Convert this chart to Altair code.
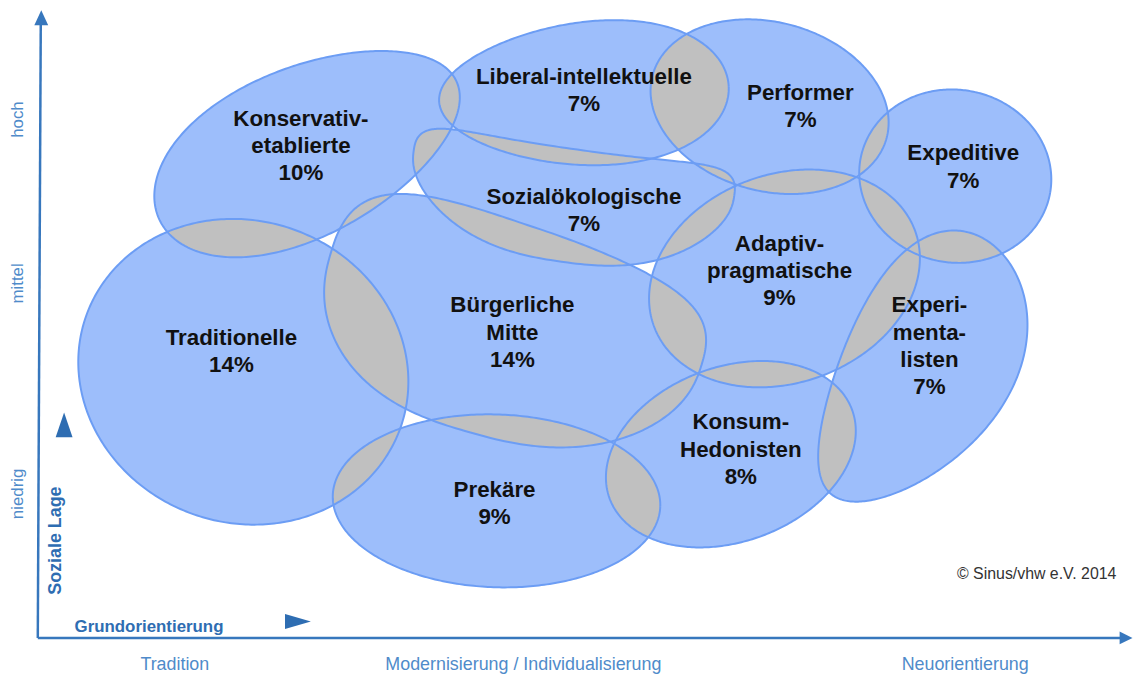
import numpy as np
import pandas as pd
import altair as alt

# ---------------- data ----------------
milieu = ["Konservativ-etablierte", "Liberal-intellektuelle", "Performer", "Expeditive",
          "Sozialökologische", "Adaptiv-pragmatische", "Traditionelle", "Bürgerliche Mitte",
          "Experimentalisten", "Konsum-Hedonisten", "Prekäre"]
label_text = ["Konservativ-\netablierte", "Liberal-intellektuelle", "Performer", "Expeditive",
              "Sozialökologische", "Adaptiv-\npragmatische", "Traditionelle", "Bürgerliche\nMitte",
              "Experi-\nmenta-\nlisten", "Konsum-\nHedonisten", "Prekäre"]
share = [10, 7, 7, 7, 7, 9, 14, 14, 7, 8, 9]

# milieu extent on the map (map units, y grows downward = lower social status)
center_x = [310, 588, 775, 962, 578, 790, 245, 520, 916, 736, 500]
center_y = [149, 92, 105, 175, 172, 278, 372, 308, 368, 455, 502]
half_len = [165, 146, 122, 97, 163, 140, 168, 195, 150, 130, 165]
half_wid = [85, 72, 85, 87, 57, 105, 152, 108, 84, 88, 87]
tilt = [25, 3, -15, -10, -8, 20, -20, -17, 60, 20, -2]
taper = [0.1, -0.15, 0, 0, 0, 0, 0, 0.1, -0.2, 0, 0]
bend = [0, 0, 0, 0, 33, 0, 0, 25, 15, 0, 0]
squareness = [2, 2, 2, 2, 2.5, 2, 2, 2.5, 2, 2, 2]
label_x = [303, 588, 806, 970, 588, 785, 233, 516, 936, 746, 498]
label_y = [117, 75, 91, 152, 196, 243, 338, 305, 305, 423, 491]

y_levels = ["hoch", "mittel", "niedrig"]
y_level_pos = [118, 283, 495]
x_levels = ["Tradition", "Modernisierung / Individualisierung", "Neuorientierung"]
x_level_pos = [176, 527, 972]

# ---------------- geometry ----------------
N = 360


def blob(cx, cy, a, b, ang, k, m, n):
    t = np.linspace(0, 2 * np.pi, N, endpoint=False)
    c, s = np.cos(t), np.sin(t)
    u = a * np.sign(c) * np.abs(c) ** (2 / n)
    v = b * np.sign(s) * np.abs(s) ** (2 / n) * (1 - k * c) + m * s ** 2
    th = np.deg2rad(ang)
    x = cx + u * np.cos(th) + v * np.sin(th)
    y = cy - u * np.sin(th) + v * np.cos(th)
    return np.column_stack([x, y])


def pip(poly, pts):
    x = pts[:, 0][:, None]
    y = pts[:, 1][:, None]
    x1, y1 = poly[:, 0][None, :], poly[:, 1][None, :]
    x2, y2 = np.roll(poly[:, 0], -1)[None, :], np.roll(poly[:, 1], -1)[None, :]
    cond = (y1 > y) != (y2 > y)
    xi = x1 + (y - y1) * (x2 - x1) / np.where(y2 - y1 == 0, 1e-9, y2 - y1)
    return ((cond & (x < xi)).sum(axis=1) % 2) == 1


def overlap(A, B):
    ma = pip(B, A)
    mb = pip(A, B)
    if ma.sum() < 2 or mb.sum() < 2 or ma.all() or mb.all():
        return None
    sa = int(np.argmin(ma))
    sb = int(np.argmin(mb))
    Ar, mar = np.roll(A, -sa, axis=0), np.roll(ma, -sa)
    Br, mbr = np.roll(B, -sb, axis=0), np.roll(mb, -sb)
    return np.vstack([Ar[mar], Br[mbr]])


shapes = [blob(*p) for p in zip(center_x, center_y, half_len, half_wid, tilt, taper, bend, squareness)]

fill_rows, line_rows, lens_rows = [], [], []
for name, P in zip(milieu, shapes):
    for i, (x, y) in enumerate(P):
        fill_rows.append({"id": name, "i": i, "x": x, "y": y})
        line_rows.append({"id": name, "i": i, "x": x, "y": y})
    line_rows.append({"id": name, "i": len(P), "x": P[0, 0], "y": P[0, 1]})

for a in range(len(shapes)):
    for b in range(a + 1, len(shapes)):
        L = overlap(shapes[a], shapes[b])
        if L is None:
            continue
        for i, (x, y) in enumerate(L):
            lens_rows.append({"id": f"{a}-{b}", "i": i, "x": x, "y": y})

fills = pd.DataFrame(fill_rows)
lines = pd.DataFrame(line_rows)
lens = pd.DataFrame(lens_rows)
labels = pd.DataFrame({"x": label_x, "y": label_y,
                       "t": [f"{l}\n{s}%" for l, s in zip(label_text, share)]})

# ---------------- styling ----------------
BLUE_FILL = "#9dbefb"
BLUE_LINE = "#6c9df4"
GRAY = "#c0c0c0"
AXIS = "#3777bd"
TICK = "#4f8bca"
TITLE = "#2e6db2"
FONT = "Liberation Sans, Arial, sans-serif"

XS = alt.Scale(domain=[8, 1141], nice=False, zero=False)
YS = alt.Scale(domain=[8, 676], nice=False, zero=False, reverse=True)


def X(f="x"):
    return alt.X(f"{f}:Q", scale=XS, axis=None)


def Y(f="y"):
    return alt.Y(f"{f}:Q", scale=YS, axis=None)


fill_layer = alt.Chart(fills).mark_line(fill=BLUE_FILL, strokeOpacity=0).encode(
    x=X(), y=Y(), order="i:Q", detail="id:N")
lens_layer = alt.Chart(lens).mark_line(fill=GRAY, strokeOpacity=0).encode(
    x=X(), y=Y(), order="i:Q", detail="id:N")
line_layer = alt.Chart(lines).mark_line(stroke=BLUE_LINE, strokeWidth=2).encode(
    x=X(), y=Y(), order="i:Q", detail="id:N")

text_layer = alt.Chart(labels).mark_text(
    font=FONT, fontSize=22.5, fontWeight="bold", color="#111111",
    lineBreak="\n", lineHeight=27.5, align="center", baseline="middle"
).encode(x=X(), y=Y(), text="t:N")

axes_df = pd.DataFrame({"x": [38, 38], "y": [640, 640], "x2": [41, 1130], "y2": [20, 640]})
axes_layer = alt.Chart(axes_df).mark_rule(color=AXIS, strokeWidth=2.5).encode(
    x=X(), y=Y(), x2="x2:Q", y2="y2:Q")

up_arrow = alt.Chart(pd.DataFrame({"x": [41.5], "y": [15.5]})).mark_point(
    shape="M-0.93,1L0,-1L0.93,1Z", size=225, filled=True, color=AXIS, opacity=1
).encode(x=X(), y=Y())
right_arrow = alt.Chart(pd.DataFrame({"x": [1134], "y": [640]})).mark_point(
    shape="M-1,-1L1,0L-1,1Z", size=169, filled=True, color=AXIS, opacity=1
).encode(x=X(), y=Y())
tri_up = alt.Chart(pd.DataFrame({"x": [64.5], "y": [425.5]})).mark_point(
    shape="M-0.68,1L0,-1L0.68,1Z", size=625, filled=True, color=TITLE, opacity=1
).encode(x=X(), y=Y())
tri_right = alt.Chart(pd.DataFrame({"x": [300], "y": [623.5]})).mark_point(
    shape="M-1,-0.58L1,0L-1,0.58Z", size=676, filled=True, color=TITLE, opacity=1
).encode(x=X(), y=Y())

ylab = alt.Chart(pd.DataFrame({"x": [23.5] * 3, "y": y_level_pos, "t": y_levels})).mark_text(
    font=FONT, fontSize=17, color=TICK, angle=270, align="center", baseline="alphabetic"
).encode(x=X(), y=Y(), text="t:N")
xlab = alt.Chart(pd.DataFrame({"x": x_level_pos, "y": [672] * 3, "t": x_levels})).mark_text(
    font=FONT, fontSize=18, color=TICK, align="center", baseline="alphabetic"
).encode(x=X(), y=Y(), text="t:N")

ytitle = alt.Chart(pd.DataFrame({"x": [61], "y": [542], "t": ["Soziale Lage"]})).mark_text(
    font=FONT, fontSize=18, fontWeight="bold", color=TITLE, angle=270, align="center",
    baseline="alphabetic"
).encode(x=X(), y=Y(), text="t:N")
xtitle = alt.Chart(pd.DataFrame({"x": [150], "y": [634], "t": ["Grundorientierung"]})).mark_text(
    font=FONT, fontSize=17, fontWeight="bold", color=TITLE, align="center",
    baseline="alphabetic"
).encode(x=X(), y=Y(), text="t:N")

copy = alt.Chart(pd.DataFrame({"x": [1044], "y": [581], "t": ["© Sinus/vhw e.V.  2014"]})).mark_text(
    font=FONT, fontSize=16, color="#333333", align="center", baseline="alphabetic"
).encode(x=X(), y=Y(), text="t:N")

chart = alt.layer(
    fill_layer, lens_layer, line_layer, text_layer,
    axes_layer, up_arrow, right_arrow, tri_up, tri_right,
    ylab, xlab, ytitle, xtitle, copy
).properties(
    width=1133, height=668, padding=0, autosize=alt.AutoSizeParams(type="none")
).configure_view(stroke=None)

chart.save("out.html", embed_options={"renderer": "svg", "actions": False})
